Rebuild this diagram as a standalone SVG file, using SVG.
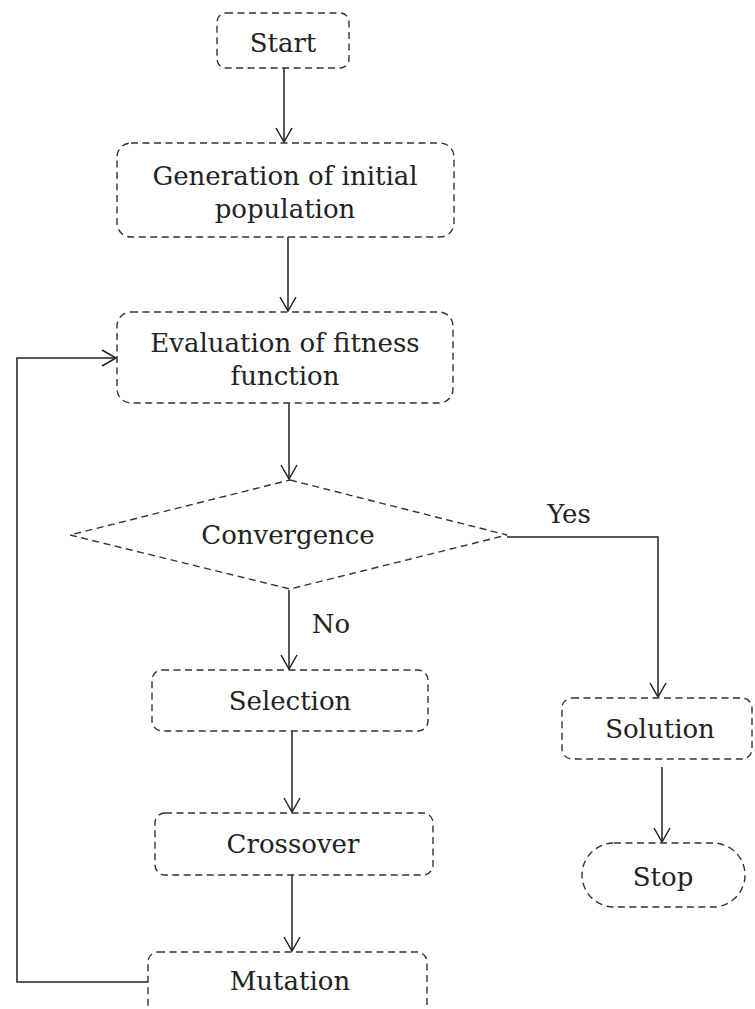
<svg xmlns="http://www.w3.org/2000/svg" width="755" height="1009" viewBox="0 0 755 1009">
<style>
.box{fill:#fff;stroke:#333;stroke-width:1.4;stroke-dasharray:7 4.5}
.t{font-family:"DejaVu Serif","Liberation Serif",serif;font-size:26px;fill:#222;text-anchor:middle}
.ln{fill:none;stroke:#222;stroke-width:1.5}
</style>
<defs>
<marker id="ah" viewBox="0 0 20 20" refX="15" refY="10" markerWidth="20" markerHeight="20" markerUnits="userSpaceOnUse" orient="auto">
<path d="M1,2 L15,10 L1,18" fill="none" stroke="#222" stroke-width="1.5"/>
</marker>
</defs>
<rect width="755" height="1009" fill="#fff"/>
<g id="connectors">
<line class="ln" x1="284" y1="68" x2="284" y2="142" marker-end="url(#ah)"/>
<line class="ln" x1="288" y1="237" x2="288" y2="311" marker-end="url(#ah)"/>
<line class="ln" x1="289" y1="403" x2="289" y2="479" marker-end="url(#ah)"/>
<line class="ln" x1="289" y1="590" x2="289" y2="669" marker-end="url(#ah)"/>
<line class="ln" x1="292" y1="731" x2="292" y2="812" marker-end="url(#ah)"/>
<line class="ln" x1="292" y1="875" x2="292" y2="951" marker-end="url(#ah)"/>
<polyline class="ln" points="507,537 658,537 658,697" marker-end="url(#ah)"/>
<line class="ln" x1="662" y1="767" x2="662" y2="842" marker-end="url(#ah)"/>
<polyline class="ln" points="148,982 17,982 17,358 116,358" marker-end="url(#ah)"/>
<text class="t" x="569" y="523">Yes</text>
<text class="t" x="331" y="633">No</text>
</g>
<g id="start">
<rect class="box" x="217" y="13" width="132" height="55" rx="9"/>
<text class="t" x="283" y="52">Start</text>
</g>
<g id="generation">
<rect class="box" x="117" y="143" width="337" height="94" rx="14"/>
<text class="t" x="285" y="185">Generation of initial</text>
<text class="t" x="285" y="218">population</text>
</g>
<g id="evaluation">
<rect class="box" x="117" y="312" width="336" height="91" rx="14"/>
<text class="t" x="285" y="352">Evaluation of fitness</text>
<text class="t" x="285" y="385">function</text>
</g>
<g id="convergence">
<polygon class="box" points="290,480 507,535 290,589 70,535"/>
<text class="t" x="288" y="544">Convergence</text>
</g>
<g id="selection">
<rect class="box" x="152" y="670" width="276" height="61" rx="10"/>
<text class="t" x="290" y="710">Selection</text>
</g>
<g id="crossover">
<rect class="box" x="155" y="813" width="278" height="62" rx="10"/>
<text class="t" x="293" y="853">Crossover</text>
</g>
<g id="mutation">
<rect class="box" x="148" y="952" width="279" height="70" rx="10"/>
<text class="t" x="290" y="990">Mutation</text>
</g>
<g id="solution">
<rect class="box" x="562" y="698" width="190" height="61" rx="10"/>
<text class="t" x="660" y="738">Solution</text>
</g>
<g id="stop">
<rect class="box" x="582" y="843" width="163" height="64" rx="32"/>
<text class="t" x="663" y="886">Stop</text>
</g>
</svg>
